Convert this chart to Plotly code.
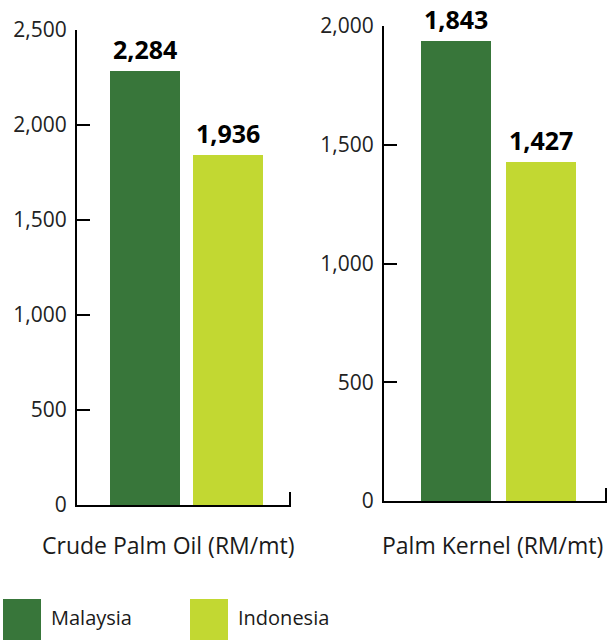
import plotly.graph_objects as go

countries = ["Malaysia", "Indonesia"]
colors = ["#38763A", "#C2D832"]

cpo_values = [2284, 1843]          # bar heights as drawn
cpo_labels = ["2,284", "1,936"]    # printed labels
pk_values = [1936, 1427]
pk_labels = ["1,843", "1,427"]

cpo_ticks = [0, 500, 1000, 1500, 2000, 2500]
cpo_ticktext = ["0", "500", "1,000", "1,500", "2,000", "2,500"]
pk_ticks = [0, 500, 1000, 1500, 2000]
pk_ticktext = ["0", "500", "1,000", "1,500", "2,000"]

titles = ["Crude Palm Oil (RM/mt)", "Palm Kernel (RM/mt)"]

W, H = 615, 640
FONT = "Open Sans"
TXT = "#1a1a1a"

fig = go.Figure()
fig.add_trace(go.Bar(x=[0, 1], y=cpo_values, marker_color=colors, marker_line_width=0,
                     width=0.843, xaxis="x", yaxis="y", showlegend=False, hoverinfo="skip"))
fig.add_trace(go.Bar(x=[0, 1], y=pk_values, marker_color=colors, marker_line_width=0,
                     width=0.82, xaxis="x2", yaxis="y2", showlegend=False, hoverinfo="skip"))

common_y = dict(showline=True, linecolor="black", linewidth=2, ticks="inside",
                ticklen=13, tickwidth=2, tickcolor="black", showgrid=False,
                zeroline=False, tickfont=dict(family=FONT, size=21, color="#222222"),
                ticklabelstandoff=4, automargin=False)
common_x = dict(showline=True, linecolor="black", linewidth=2, showgrid=False,
                zeroline=False, showticklabels=False, ticks="", automargin=False)

fig.update_layout(
    template="none",
    width=W, height=H, margin=dict(l=0, r=0, t=0, b=0, pad=0),
    paper_bgcolor="white", plot_bgcolor="white",
    xaxis=dict(domain=[77 / W, 291 / W], range=[-0.819, 1.759], anchor="y", **common_x),
    yaxis=dict(domain=[1 - 505 / H, 1 - 30 / H], range=[0, 2500], anchor="x",
               tickvals=cpo_ticks, ticktext=cpo_ticktext, **common_y),
    xaxis2=dict(domain=[384 / W, 607 / W], range=[-0.85, 1.773], anchor="y2", **common_x),
    yaxis2=dict(domain=[1 - 501 / H, 1 - 26 / H], range=[0, 2000], anchor="x2",
                tickvals=pk_ticks, ticktext=pk_ticktext, **common_y),
    bargap=0,
)

# value labels
for xa, ya, vals, labs in [("x", "y", cpo_values, cpo_labels), ("x2", "y2", pk_values, pk_labels)]:
    for i, (v, t) in enumerate(zip(vals, labs)):
        fig.add_annotation(x=i, y=v, xref=xa, yref=ya, text="<b>" + t + "</b>",
                           showarrow=False, yanchor="bottom", yshift=3,
                           font=dict(family=FONT, size=25, color="black"))

# right-end ticks on x axes
fig.add_shape(type="line", xref="paper", yref="paper", x0=290 / W, x1=290 / W,
              y0=1 - 505 / H, y1=1 - 492 / H, line=dict(color="black", width=2))
fig.add_shape(type="line", xref="paper", yref="paper", x0=606 / W, x1=606 / W,
              y0=1 - 501 / H, y1=1 - 488 / H, line=dict(color="black", width=2))

# category titles
fig.add_annotation(x=168 / W, y=1 - 545 / H, xref="paper", yref="paper", text=titles[0],
                   showarrow=False, xanchor="center", yanchor="middle",
                   font=dict(family=FONT, size=23, color=TXT))
fig.add_annotation(x=492 / W, y=1 - 545 / H, xref="paper", yref="paper", text=titles[1],
                   showarrow=False, xanchor="center", yanchor="middle",
                   font=dict(family=FONT, size=23, color=TXT))

# legend
for i, (name, col) in enumerate(zip(countries, colors)):
    x0 = 3 + i * 187
    fig.add_shape(type="rect", xref="paper", yref="paper", x0=x0 / W, x1=(x0 + 38) / W,
                  y0=1 - 640 / H, y1=1 - 599 / H, fillcolor=col, line=dict(width=0))
    fig.add_annotation(x=(x0 + 46) / W, y=1 - 617 / H, xref="paper", yref="paper", text=name,
                       showarrow=False, xanchor="left", yanchor="middle",
                       font=dict(family=FONT, size=20, color=TXT))

fig.write_html("out.html")
